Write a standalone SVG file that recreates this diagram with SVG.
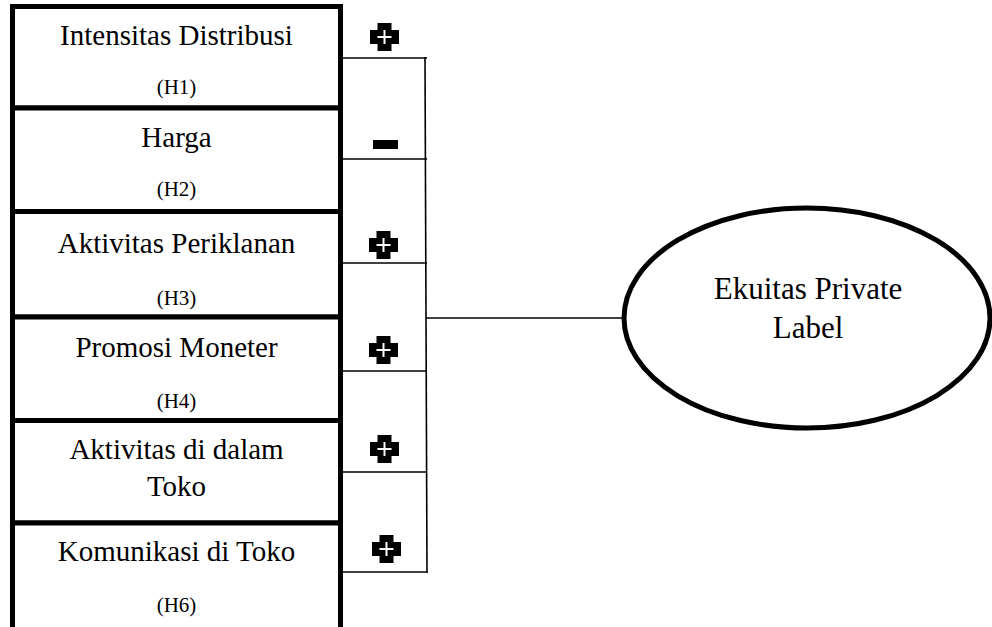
<svg xmlns="http://www.w3.org/2000/svg" width="992" height="627" viewBox="0 0 992 627">
<defs>
<style>
.box{fill:#fff;stroke:#000;stroke-width:5}
.t{font-family:"Liberation Serif","Times New Roman",serif;font-size:29px;fill:#000;text-anchor:middle}
.h{font-family:"Liberation Serif","Times New Roman",serif;font-size:21px;fill:#000;text-anchor:middle}
.e{font-family:"Liberation Serif","Times New Roman",serif;font-size:31px;fill:#000;text-anchor:middle}
.ln{stroke:#000;stroke-width:1.6;fill:none}
.sgn{fill:#000}
.sgnw{stroke:#fff;stroke-width:2;fill:none}
</style>
<g id="plus">
<path class="sgn" d="M-7,-14 H7 V-7 H14.5 V7 H7 V14 H-7 V7 H-14.5 V-7 H-7 Z"/>
<path class="sgnw" d="M0,-7 V7 M-7,0 H7"/>
</g>
</defs>
<rect width="992" height="627" fill="#fff"/>
<g id="connectors">
<line class="ln" x1="341" y1="58" x2="427" y2="58"/>
<line class="ln" x1="341" y1="159" x2="427" y2="159"/>
<line class="ln" x1="341" y1="263" x2="427" y2="263"/>
<line class="ln" x1="341" y1="371" x2="427" y2="371"/>
<line class="ln" x1="341" y1="472" x2="427" y2="472"/>
<line class="ln" x1="341" y1="572" x2="427" y2="572"/>
<line class="ln" x1="425" y1="57" x2="427" y2="573"/>
<line class="ln" x1="426" y1="318" x2="624" y2="318"/>
</g>
<g id="signs">
<use href="#plus" x="384.5" y="37"/>
<rect class="sgn" x="373" y="140" width="25" height="9"/>
<use href="#plus" x="383.5" y="245"/>
<use href="#plus" x="383.5" y="350"/>
<use href="#plus" x="384.5" y="449"/>
<use href="#plus" x="386.5" y="549"/>
</g>
<g id="h1">
<rect class="box" x="12.5" y="6.5" width="328" height="101.5"/>
<text class="t" x="176.5" y="45">Intensitas Distribusi</text>
<text class="h" x="176.5" y="94">(H1)</text>
</g>
<g id="h2">
<rect class="box" x="12.5" y="108" width="328" height="103.5"/>
<text class="t" x="176.5" y="147">Harga</text>
<text class="h" x="176.5" y="196">(H2)</text>
</g>
<g id="h3">
<rect class="box" x="12.5" y="211.5" width="328" height="105.5"/>
<text class="t" x="176.5" y="253">Aktivitas Periklanan</text>
<text class="h" x="176.5" y="305">(H3)</text>
</g>
<g id="h4">
<rect class="box" x="12.5" y="317" width="328" height="103.5"/>
<text class="t" x="176.5" y="357">Promosi Moneter</text>
<text class="h" x="176.5" y="408">(H4)</text>
</g>
<g id="h5">
<rect class="box" x="12.5" y="420.5" width="328" height="102.5"/>
<text class="t" x="176.5" y="459">Aktivitas di dalam</text>
<text class="t" x="176.5" y="496">Toko</text>
</g>
<g id="h6">
<rect class="box" x="12.5" y="523" width="328" height="110"/>
<text class="t" x="176.5" y="561">Komunikasi di Toko</text>
<text class="h" x="176.5" y="612">(H6)</text>
</g>
<g id="ekuitas">
<ellipse cx="807" cy="318" rx="183" ry="110" fill="#fff" stroke="#000" stroke-width="5"/>
<text class="e" x="808" y="299">Ekuitas Private</text>
<text class="e" x="808" y="338">Label</text>
</g>
</svg>
